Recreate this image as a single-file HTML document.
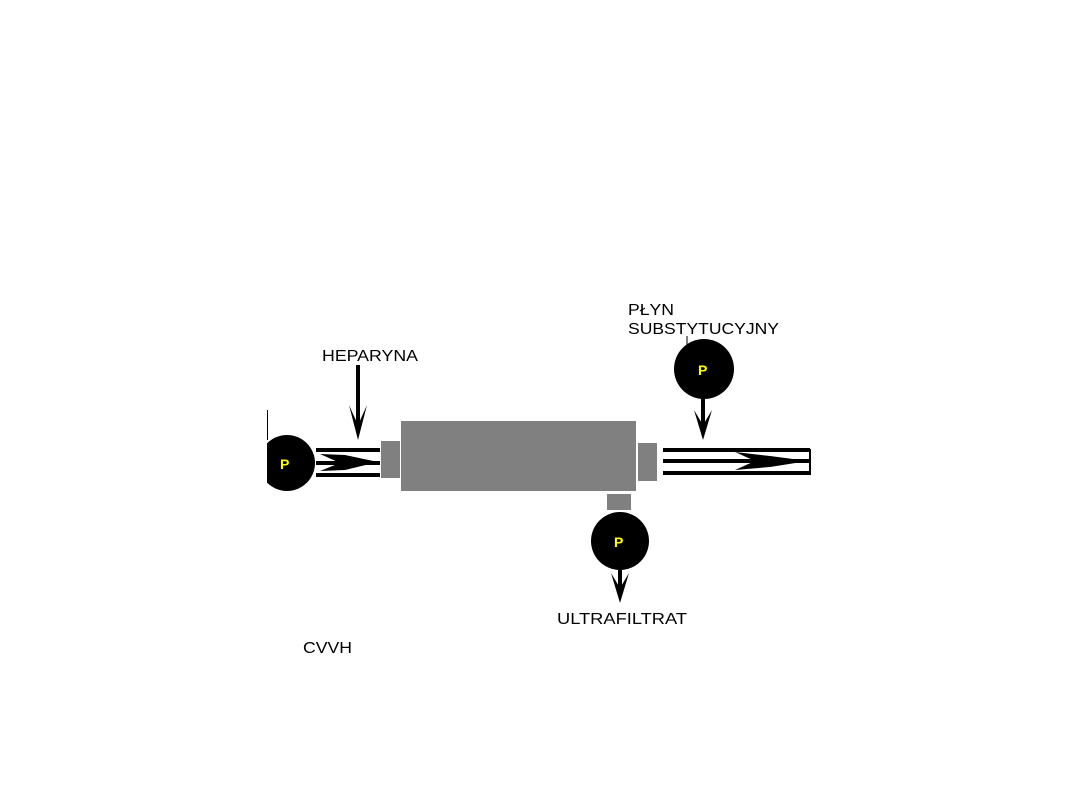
<!DOCTYPE html>
<html><head><meta charset="utf-8"><style>
html,body{margin:0;padding:0;background:#fff;width:1080px;height:810px;overflow:hidden}
svg text{font-family:"Liberation Sans",sans-serif}
</style></head><body>
<svg width="1080" height="810" viewBox="0 0 1080 810">
<g font-size="16" fill="#000">
<text x="322" y="361" textLength="96" lengthAdjust="spacingAndGlyphs">HEPARYNA</text>
<text x="628" y="315" textLength="46" lengthAdjust="spacingAndGlyphs">PŁYN</text>
<text x="628" y="334" textLength="151" lengthAdjust="spacingAndGlyphs">SUBSTYTUCYJNY</text>
<text x="557" y="624" textLength="130" lengthAdjust="spacingAndGlyphs">ULTRAFILTRAT</text>
<text x="303" y="653" textLength="49" lengthAdjust="spacingAndGlyphs">CVVH</text>
</g>
<!-- left pump -->
<line x1="267.5" y1="410" x2="267.5" y2="440" stroke="#000" stroke-width="1"/>
<clipPath id="c1"><rect x="267" y="400" width="100" height="120"/></clipPath>
<circle cx="287" cy="463" r="28" fill="#000" clip-path="url(#c1)"/>
<text x="280" y="469" font-size="14" font-weight="bold" fill="#ff0">P</text>
<!-- left tubes -->
<g stroke="#000" stroke-width="4">
<line x1="316" y1="450" x2="380" y2="450"/>
<line x1="316" y1="463" x2="380" y2="463"/>
<line x1="316" y1="475" x2="380" y2="475"/>
</g>
<polygon points="320,454 345,455 378,462 345,470 320,471 340,463" fill="#000"/>
<!-- heparyna arrow -->
<line x1="358" y1="365" x2="358" y2="430" stroke="#000" stroke-width="4"/>
<polygon points="349,405 358,440 367,405 358,425" fill="#000"/>
<!-- filter -->
<rect x="381" y="441" width="19" height="37" fill="#808080"/>
<rect x="401" y="421" width="235" height="70" fill="#808080"/>
<rect x="638" y="443" width="19" height="38" fill="#808080"/>
<rect x="607" y="494" width="24" height="16" fill="#808080"/>
<!-- right tubes -->
<g stroke="#000" stroke-width="4">
<line x1="663" y1="450" x2="810" y2="450"/>
<line x1="663" y1="461" x2="810" y2="461"/>
<line x1="663" y1="473" x2="810" y2="473"/>
</g>
<line x1="810" y1="449" x2="810" y2="475" stroke="#000" stroke-width="2"/>
<polygon points="735,452 770,456 808,461 770,467 735,470 755,461" fill="#000"/>
<!-- right pump -->
<line x1="687" y1="336" x2="687" y2="345" stroke="#000" stroke-width="1"/>
<circle cx="704" cy="369" r="30" fill="#000"/>
<text x="698" y="375" font-size="14" font-weight="bold" fill="#ff0">P</text>
<line x1="703" y1="395" x2="703" y2="430" stroke="#000" stroke-width="4"/>
<polygon points="694,410 703,440 712,410 703,425" fill="#000"/>
<!-- bottom pump -->
<circle cx="620" cy="541" r="29" fill="#000"/>
<text x="614" y="547" font-size="14" font-weight="bold" fill="#ff0">P</text>
<line x1="620" y1="565" x2="620" y2="595" stroke="#000" stroke-width="4"/>
<polygon points="611,573 620,603 629,573 620,588" fill="#000"/>
</svg>
</body></html>
